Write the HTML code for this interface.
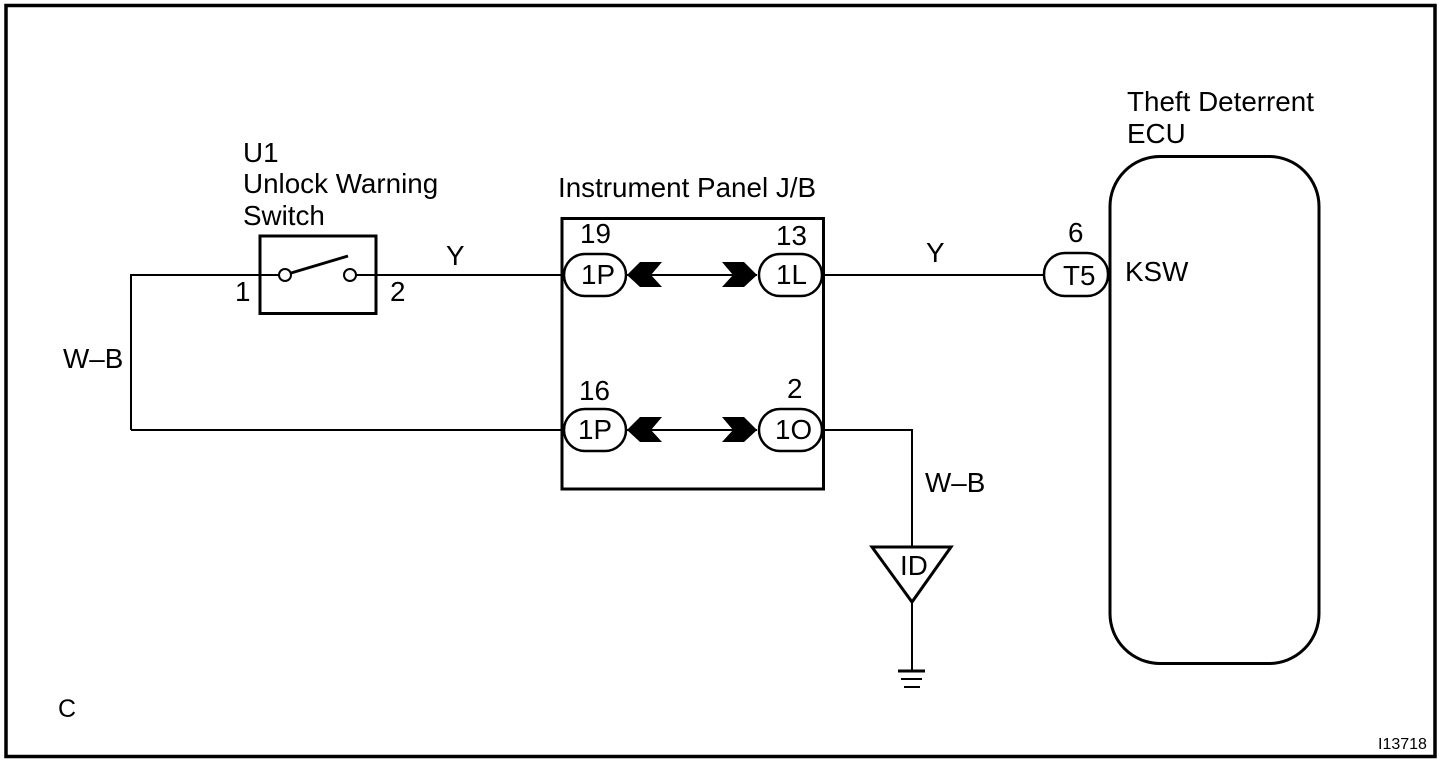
<!DOCTYPE html>
<html><head><meta charset="utf-8">
<style>html,body{margin:0;padding:0;background:#fff}svg{display:block}
text{font-family:"Liberation Sans",sans-serif;font-size:27.8px;fill:#000}</style></head>
<body>
<svg width="1456" height="768" viewBox="0 0 1456 768" xmlns="http://www.w3.org/2000/svg">
<rect width="1456" height="768" fill="#fff"/>
<rect x="6" y="5.5" width="1429" height="751" fill="none" stroke="#000" stroke-width="3.5"/>
<g fill="none" stroke="#000" stroke-width="2">
<path d="M131 430V275H280M356 275H561"/>
<path d="M131 430H561"/>
<path d="M824 275H1044M824 430H912V547"/>
<path d="M912 602V671"/>
<path d="M627 275H757M627 430H757"/>
</g>
<rect x="260" y="236" width="116" height="77.500" fill="#fff" stroke="#000" stroke-width="3"/>
<path d="M260 275H280M356 275H376" stroke="#000" stroke-width="2"/>
<circle cx="285" cy="275" r="6" fill="#fff" stroke="#000" stroke-width="2"/>
<circle cx="350" cy="275" r="6" fill="#fff" stroke="#000" stroke-width="2"/>
<path d="M291 273L348 256" stroke="#000" stroke-width="3"/>
<rect x="562" y="218.500" width="261.500" height="270.500" fill="none" stroke="#000" stroke-width="3"/>
<g fill="#fff" stroke="#000" stroke-width="2.500">
<rect x="564" y="254" width="62" height="42" rx="21"/>
<rect x="759" y="254" width="63" height="42" rx="21"/>
<rect x="564" y="409" width="62" height="42" rx="21"/>
<rect x="759" y="409" width="63" height="42" rx="21"/>
<rect x="1044" y="253" width="64" height="43" rx="21"/>
</g>
<g fill="#000">
<path d="M627 275L640 262H662L651 275L662 287H640Z"/>
<path d="M722 262H744L757 275L744 287H722L733 275Z"/>
<path d="M627 430L640 417H662L651 430L662 442H640Z"/>
<path d="M722 417H744L757 430L744 442H722L733 430Z"/>
</g>
<rect x="1110" y="156.500" width="209" height="507" rx="50" ry="50" fill="none" stroke="#000" stroke-width="3"/>
<path d="M872 547H951L912 602Z" fill="#fff" stroke="#000" stroke-width="3"/>
<path d="M898 671H925" stroke="#000" stroke-width="3"/>
<path d="M901 679H922" stroke="#000" stroke-width="2"/>
<path d="M904 687H920" stroke="#000" stroke-width="2"/>
<text x="243" y="162">U1</text>
<text x="243" y="193">Unlock Warning</text>
<text x="243" y="225">Switch</text>
<text x="235" y="301">1</text>
<text x="390" y="301">2</text>
<text x="446" y="265">Y</text>
<text x="63" y="368">W–B</text>
<text x="558" y="197">Instrument Panel J/B</text>
<text x="580" y="243">19</text>
<text x="581" y="284">1P</text>
<text x="776" y="245">13</text>
<text x="776" y="284">1L</text>
<text x="579" y="400">16</text>
<text x="787" y="398">2</text>
<text x="578" y="439">1P</text>
<text x="775" y="439">1O</text>
<text x="926" y="262">Y</text>
<text x="925" y="492">W–B</text>
<text x="1068" y="242">6</text>
<text x="1063" y="285">T5</text>
<text x="1125" y="281">KSW</text>
<text x="1127" y="111">Theft Deterrent</text>
<text x="1127" y="143">ECU</text>
<text x="900" y="575">ID</text>
<text x="58" y="717" style="font-size:25px">C</text>
<text x="1378" y="749" style="font-size:16px">I13718</text>
</svg>
</body></html>
